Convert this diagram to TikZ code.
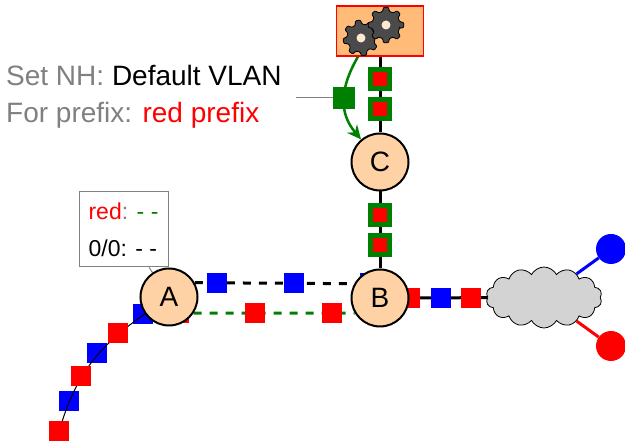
\documentclass[tikz,border=0pt]{standalone}
\usepackage{xcolor}
\usepackage{fontspec}
\setmainfont{Liberation Sans}
\usetikzlibrary{shapes.symbols, arrows.meta, backgrounds}

\definecolor{boxorange}{HTML}{FFBB77}
\definecolor{nodeorange}{HTML}{FFD2A6}
\definecolor{leafgreen}{HTML}{008000}
\definecolor{notegray}{HTML}{808080}
\definecolor{cloudgray}{HTML}{D3D3D3}
\definecolor{gearfill}{HTML}{4A4A4A}

\begin{document}
\begin{tikzpicture}[x=1pt, y=1pt,
    router/.style={circle, draw=black, line width=2pt, fill=nodeorange, minimum size=57pt, inner sep=0pt, font=\fontsize{28}{28}\selectfont},
    bluepkt/.style={rectangle, fill=blue, minimum size=20pt, inner sep=0pt},
    redpkt/.style={rectangle, fill=red, minimum size=20pt, inner sep=0pt},
    ctrlpkt/.style={rectangle, draw=leafgreen, line width=5pt, fill=red, minimum size=19pt, inner sep=0pt},
    host/.style={circle, minimum size=30pt, inner sep=0pt},
    link/.style={draw, line width=3pt},
    note/.style={font=\fontsize{28}{37}\selectfont, align=left, inner sep=0pt, text=notegray}
]
    \useasboundingbox (0,0) rectangle (625,441);

    % Routers
    \node[router] (A) at (169,144) {A};
    \node[router] (B) at (380,143) {B};
    \node[router] (C) at (380,279) {C};

    % Controller box with the gears
    \node[rectangle, draw=red, line width=1.3pt, fill=boxorange, minimum width=87pt, minimum height=50pt] (ctrl) at (380,410) {};
    \foreach \gx/\gy/\grot in {361/403/10, 386/416/0} {
        \fill[gearfill, draw=black, line width=0.8pt, rounded corners=1pt, shift={(\gx,\gy)}, rotate=\grot] (-14:14)
            \foreach \t in {0,45,...,315} { -- (\t-14:14) -- (\t-8:18) -- (\t+8:18) -- (\t+14:14) } -- cycle;
        \fill[nodeorange!50!white] (\gx,\gy) circle (4.5);
    }

    % Cloud and hosts
    \node[cloud, cloud puffs=14, cloud puff arc=125, aspect=1.9, draw=black, line width=0.8pt, fill=cloudgray, minimum width=116pt, minimum height=61pt, inner sep=0pt] (cloud) at (544,143.5) {};
    \node[host, fill=blue] (bluehost) at (611,192) {};
    \node[host, fill=red] (redhost) at (611,95) {};

    % Note on the update
    \node[note, anchor=base west] (prefixnote) at (6,318) {Set NH: \textcolor{black}{Default VLAN}\\For prefix: \textcolor{red}{red prefix}};
    \coordinate (notetail) at (296,343);

    % Table at router A
    \node[rectangle, draw=notegray, line width=1pt, fill=white, minimum width=89pt, minimum height=75pt, align=left, inner sep=0pt, font=\fontsize{23}{37}\selectfont] (table) at (123.5,211.5)
        {\textcolor{red}{red}\textcolor{notegray}{:} \textcolor{leafgreen}{- -}\\0/0: - -};

    % Update packet on the curved arrow
    \node[rectangle, fill=leafgreen, minimum size=22pt, inner sep=0pt] (update) at (344,343) {};

    \begin{scope}[on background layer]
        % Links
        \draw[link] (ctrl.south) -- (C.north);
        \draw[link] (C.south) -- (B.north);
        \draw[link] (B) -- (cloud);
        \draw[link, dashed, dash pattern=on 8pt off 8pt] (A.29) -- (B.151);
        \draw[link, leafgreen, dashed, dash pattern=on 8pt off 8pt] (A.-33) -- (B.-149);
        \draw[line width=3pt, blue] (bluehost) -- (cloud);
        \draw[line width=3pt, red] (redhost) -- (cloud);
        \draw[notegray, line width=1pt] (notetail) -- (update);
        \draw[notegray, line width=1pt] (table) -- (A);

        % Packets coming down from the controller
        \node[ctrlpkt] (ctrl1) at (380,362) {};
        \node[ctrlpkt] (ctrl2) at (380,332) {};
        \node[ctrlpkt] (ctrl3) at (380,226) {};
        \node[ctrlpkt] (ctrl4) at (380,196) {};

        % Packets between A and B
        \node[bluepkt] (blue1) at (217,158) {};
        \node[bluepkt] (blue2) at (294,158) {};
        \node[bluepkt] (blue3) at (370,158) {};
        \node[redpkt] (red1) at (179,128) {};
        \node[redpkt] (red2) at (255,128) {};
        \node[redpkt] (red3) at (332,128) {};

        % Packets between B and the cloud
        \node[redpkt] (red4) at (410,143) {};
        \node[bluepkt] (blue4) at (441,143) {};
        \node[redpkt] (red5) at (471,143) {};

        % Packets on the way into A
        \node[bluepkt] (blue5) at (143,127) {};
        \node[bluepkt] (blue6) at (97,88) {};
        \node[bluepkt] (blue7) at (69,40) {};
        \node[redpkt] (red9) at (59,10) {};
        \draw[line width=1pt] (A) to[out=215, in=72] (red9);
        \node[redpkt] (red6) at (118,108) {};
        \node[redpkt] (red7) at (81,65) {};

        % Curved arrow
        \draw[-{Stealth[length=14pt, width=13pt]}, line width=2.5pt, leafgreen] ([xshift=-22pt]ctrl.south) to[out=240, in=130, looseness=1.1] (C.130);
    \end{scope}
\end{tikzpicture}
\end{document}
